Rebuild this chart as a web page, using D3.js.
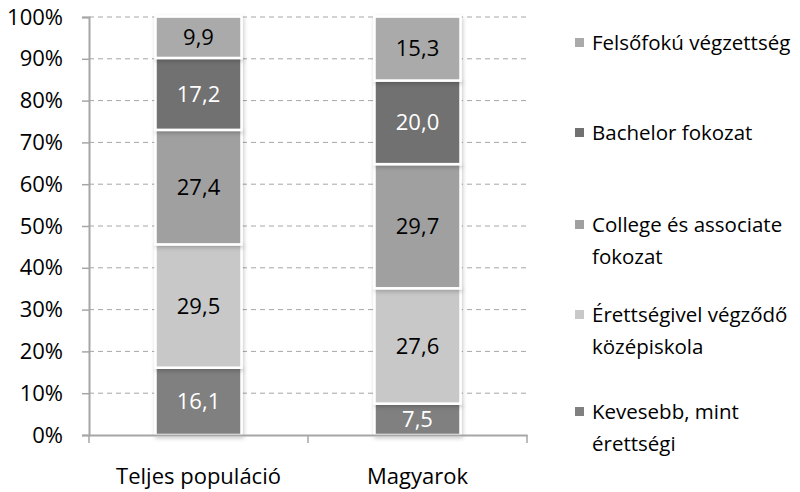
<!DOCTYPE html>
<html><head><meta charset="utf-8">
<script src="https://cdn.jsdelivr.net/npm/d3@7"></script>
<style>body{margin:0;background:#fff}svg{display:block}text{font-family:"Open Sans",sans-serif}</style>
</head><body>
<svg id="c" width="800" height="492"></svg>
<script>
const categories = ["Teljes populáció", "Magyarok"];
const seriesNames = ["Kevesebb, mint érettségi", "Érettségivel végződő középiskola", "College és associate fokozat", "Bachelor fokozat", "Felsőfokú végzettség"];
const legendLines = [["Kevesebb, mint", "érettségi"], ["Érettségivel végződő", "középiskola"], ["College és associate", "fokozat"], ["Bachelor fokozat"], ["Felsőfokú végzettség"]];
const kevesebb = [16.1, 7.5];
const erettsegi = [29.5, 27.6];
const college = [27.4, 29.7];
const bachelor = [17.2, 20.0];
const felsofoku = [9.9, 15.3];
const yTicks = [0, 10, 20, 30, 40, 50, 60, 70, 80, 90, 100];
const colors = ["#808080", "#c8c8c8", "#a0a0a0", "#717171", "#aaaaaa"];
const labelColors = ["#fff", "#000", "#000", "#fff", "#000"];

const series = [kevesebb, erettsegi, college, bachelor, felsofoku];
const rows = categories.map((c, i) => {
  const r = {cat: c};
  seriesNames.forEach((s, j) => r[s] = series[j][i]);
  return r;
});
const stacked = d3.stack().keys(seriesNames)(rows);

const svg = d3.select("#c");
const x = d3.scaleBand().domain(categories).range([89, 527]).paddingInner(0).paddingOuter(0);
const y = d3.scaleLinear().domain([0, 100]).range([435, 17]);
const barW = 86;
const fs = 22;

const defs = svg.append("defs");
const f = defs.append("filter").attr("id", "sh").attr("x", "-20%").attr("y", "-20%").attr("width", "140%").attr("height", "140%");
f.append("feDropShadow").attr("dx", 1).attr("dy", 2).attr("stdDeviation", 2).attr("flood-color", "#000").attr("flood-opacity", 0.22);

// gridlines
svg.append("g").selectAll("line").data(yTicks.filter(t => t > 0)).join("line")
  .attr("x1", 89).attr("x2", 527).attr("y1", d => y(d)).attr("y2", d => y(d))
  .attr("stroke", "#a6a6a6").attr("stroke-width", 1).attr("stroke-dasharray", "5,4");

// y axis
const ya = d3.axisLeft(y).tickValues(yTicks).tickFormat(d => d + "%").tickSize(7).tickPadding(19);
const yg = svg.append("g").attr("transform", "translate(89,0)").call(ya);
yg.select(".domain").attr("stroke", "#a6a6a6").attr("stroke-width", 2);
yg.selectAll(".tick line").attr("stroke", "#a6a6a6").attr("stroke-width", 1.5);
yg.selectAll(".tick text").attr("font-size", fs).attr("fill", "#000").attr("font-family", "Open Sans");

// bars
const gBars = svg.append("g");
stacked.forEach((s, si) => {
  const g = gBars.append("g");
  g.selectAll("rect").data(s).join("rect")
    .attr("x", d => x(d.data.cat) + x.bandwidth() / 2 - barW / 2)
    .attr("y", d => y(d[1]))
    .attr("width", barW)
    .attr("height", d => y(d[0]) - y(d[1]))
    .attr("fill", colors[si])
    .attr("stroke", "#fff").attr("stroke-width", 2.5)
    .attr("filter", "url(#sh)");
});
stacked.forEach((s, si) => {
  gBars.append("g").selectAll("text").data(s).join("text")
    .attr("x", d => x(d.data.cat) + x.bandwidth() / 2)
    .attr("y", d => (y(d[0]) + y(d[1])) / 2)
    .attr("dy", "0.36em")
    .attr("text-anchor", "middle")
    .attr("font-size", fs)
    .attr("fill", labelColors[si])
    .text(d => (d[1] - d[0]).toFixed(1).replace(".", ","));
});

// x axis
const xa = d3.axisBottom(x).tickSize(0).tickPadding(33);
const xg = svg.append("g").attr("transform", "translate(0,435)").call(xa);
xg.select(".domain").attr("stroke", "#a6a6a6").attr("stroke-width", 2);
xg.selectAll(".tick text").attr("font-size", fs).attr("fill", "#000").attr("font-family", "Open Sans");
svg.append("g").selectAll("line").data([89, 308, 527]).join("line")
  .attr("x1", d => d).attr("x2", d => d).attr("y1", 435).attr("y2", 443)
  .attr("stroke", "#a6a6a6").attr("stroke-width", 1.5);

// legend
const legendY = [412, 315, 225, 133, 43];
const lg = svg.append("g");
seriesNames.forEach((s, i) => {
  const ly = legendY[i];
  lg.append("rect").attr("x", 575).attr("y", ly - 5).attr("width", 9).attr("height", 9).attr("fill", colors[i]);
  legendLines[i].forEach((ln, k) => {
    lg.append("text").attr("x", 592).attr("y", ly + k * 32).attr("dy", "0.36em")
      .attr("font-size", 20.5).attr("fill", "#000").text(ln);
  });
});
</script>
</body></html>
